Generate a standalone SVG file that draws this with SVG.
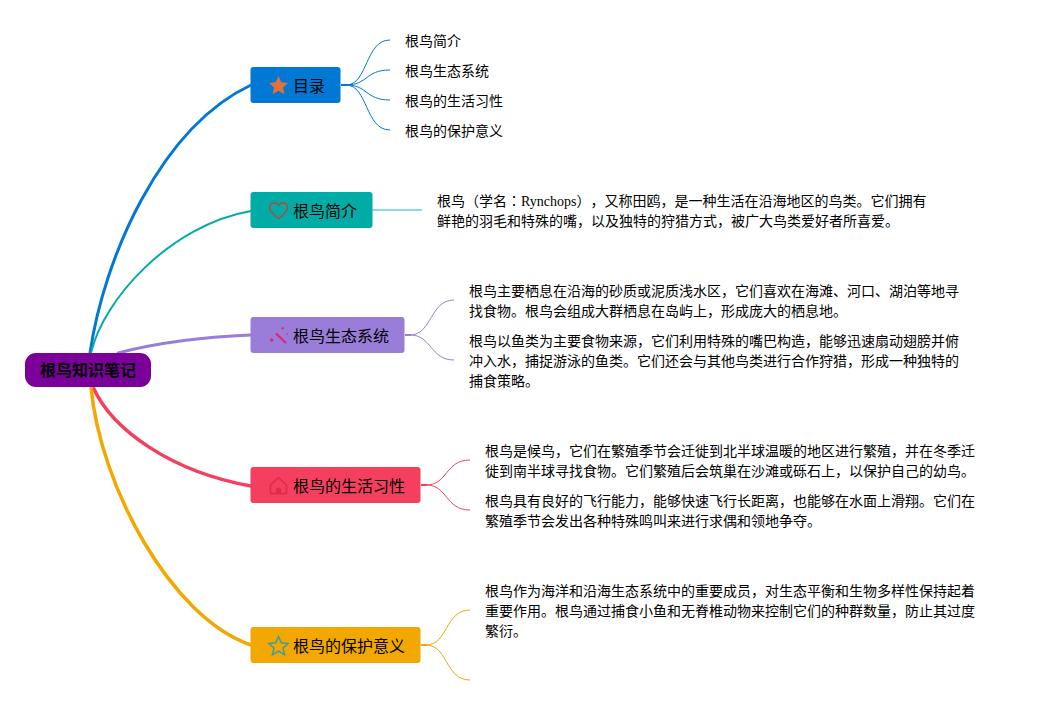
<svg xmlns="http://www.w3.org/2000/svg" width="1045" height="705" viewBox="0 0 1045 705">
<style>
text{font-family:"Liberation Serif","Noto Sans CJK SC",sans-serif;fill:#000;text-spacing-trim:space-all}
.t{font-size:16px}
.l{font-size:14px}
.m{fill:none;stroke-width:3;stroke-linecap:round}
.s{fill:none;stroke-width:1}
.b{fill:none;stroke-width:2}
</style>
<rect width="1045" height="705" fill="#fff"/>
<g id="connectors">
<path class="m" stroke="#0078d4" d="M90 353C104 258 160 128 251 85"/>
<path class="m" stroke="#00aca5" style="stroke-width:2" d="M91 353C103 300 170 225 251 211"/>
<path class="m" stroke="#9a7dd8" d="M118 353C160 342 200 337 251 335"/>
<path class="m" stroke="#f43f5e" style="stroke-width:3.500" d="M93 387C112 430 172 472 251 486"/>
<path class="m" stroke="#f2a800" style="stroke-width:3.500" d="M91 387C100 485 170 617 251 645"/>
<g stroke="#0078d4">
<path class="b" d="M341 85H347"/>
<path class="s" d="M346 85C368 85 365 40 390 40"/>
<path class="s" d="M346 85C368 85 365 70 390 70"/>
<path class="s" d="M346 85C368 85 365 100 390 100"/>
<path class="s" d="M346 85C368 85 365 130 390 130"/>
</g>
<path d="M372 210H422" fill="none" stroke="#00aca5" stroke-opacity=".6" stroke-width="1.500"/>
<g stroke="#9a7dd8">
<path class="b" d="M405 335H411"/>
<path class="s" d="M410 335C432 335 430 300 454 300"/>
<path class="s" d="M410 335C432 335 430 360 454 360"/>
</g>
<g stroke="#f43f5e">
<path class="b" d="M421 485H427"/>
<path class="s" d="M426 485C448 485 445 460 470 460"/>
<path class="s" d="M426 485C448 485 445 510 470 510"/>
</g>
<g stroke="#f2a800">
<path class="b" d="M421 645H427"/>
<path class="s" d="M426 645C448 645 445 610 470 610"/>
<path class="s" d="M426 645C448 645 445 680 470 680"/>
</g>
</g>
<g id="root">
<rect x="25" y="353" width="126" height="34" rx="11" fill="#7a0099"/>
<text x="88" y="376" text-anchor="middle" class="t" font-weight="bold">根鸟知识笔记</text>
</g>
<g id="node-mulu">
<rect x="250.500" y="67" width="90" height="36" rx="3" fill="#0078d4"/>
<path d="M278.500 76l2.800 6.300 6.800.7-5.100 4.500 1.500 6.700-6-3.500-6 3.500 1.500-6.700-5.100-4.500 6.800-.7z" fill="#e2703a"/>
<text x="293" y="91.500" class="t">目录</text>
</g>
<g id="node-intro">
<rect x="250.500" y="192" width="122" height="36" rx="3" fill="#00aca5"/>
<path d="M278.500 218.500c-4-3.500-9-6.500-9-11 0-5 6.500-6.500 9-2 2.500-4.500 9-3 9 2 0 4.500-5 7.500-9 11z" fill="none" stroke="#b04a4a" stroke-width="1.500"/>
<text x="293" y="216.500" class="t">根鸟简介</text>
</g>
<g id="node-eco">
<rect x="250.500" y="317" width="154" height="36" rx="3" fill="#9a7dd8"/>
<path d="M276 333.500L286 343" stroke="#e0246e" stroke-width="2" fill="none"/>
<path d="M282.700 326.800l1.500 1.500-1.500 1.500-1.500-1.500zM287 333l1 1-1 1-1-1zM271.700 338l2 2-2 2-2-2z" fill="#e0246e"/>
<text x="293" y="341.500" class="t">根鸟生态系统</text>
</g>
<g id="node-life">
<rect x="250.500" y="467" width="170" height="36" rx="3" fill="#f43f5e"/>
<path d="M270.500 485l8-7.500 8 7.500v8.500h-16z" fill="none" stroke="#e0294f" stroke-width="1.500" stroke-linejoin="round"/>
<path d="M276 493.500v-3.500a2.500 2.500 0 0 1 5 0v3.500z" fill="#e0294f"/>
<text x="293" y="491.500" class="t">根鸟的生活习性</text>
</g>
<g id="node-protect">
<rect x="250.500" y="627" width="170" height="36" rx="3" fill="#f2a800"/>
<path d="M278.500 636.500l2.800 6.300 6.800.7-5.100 4.500 1.500 6.700-6-3.500-6 3.500 1.500-6.700-5.100-4.500 6.800-.7z" fill="none" stroke="#3d9ca0" stroke-width="1.500"/>
<text x="293" y="651.500" class="t">根鸟的保护意义</text>
</g>
<g id="leaf-toc">
<text x="405" y="46" class="l">根鸟简介</text>
<text x="405" y="76" class="l">根鸟生态系统</text>
<text x="405" y="106" class="l">根鸟的生活习性</text>
<text x="405" y="136" class="l">根鸟的保护意义</text>
</g>
<g id="leaf-intro">
<text x="437" y="206" class="l">根鸟（学名<tspan style="font-family:'Noto Sans CJK TC',sans-serif">：</tspan>Rynchops），又称田鸥，是一种生活在沿海地区的鸟类。它们拥有</text>
<text x="437" y="226" class="l">鲜艳的羽毛和特殊的嘴，以及独特的狩猎方式，被广大鸟类爱好者所喜爱。</text>
</g>
<g id="leaf-eco">
<text x="469" y="296" class="l">根鸟主要栖息在沿海的砂质或泥质浅水区，它们喜欢在海滩、河口、湖泊等地寻</text>
<text x="469" y="316" class="l">找食物。根鸟会组成大群栖息在岛屿上，形成庞大的栖息地。</text>
<text x="469" y="346" class="l">根鸟以鱼类为主要食物来源，它们利用特殊的嘴巴构造，能够迅速扇动翅膀并俯</text>
<text x="469" y="366" class="l">冲入水，捕捉游泳的鱼类。它们还会与其他鸟类进行合作狩猎，形成一种独特的</text>
<text x="469" y="386" class="l">捕食策略。</text>
</g>
<g id="leaf-life">
<text x="485" y="456" class="l">根鸟是候鸟，它们在繁殖季节会迁徙到北半球温暖的地区进行繁殖，并在冬季迁</text>
<text x="485" y="476" class="l">徙到南半球寻找食物。它们繁殖后会筑巢在沙滩或砾石上，以保护自己的幼鸟。</text>
<text x="485" y="506" class="l">根鸟具有良好的飞行能力，能够快速飞行长距离，也能够在水面上滑翔。它们在</text>
<text x="485" y="526" class="l">繁殖季节会发出各种特殊鸣叫来进行求偶和领地争夺。</text>
</g>
<g id="leaf-protect">
<text x="485" y="596" class="l">根鸟作为海洋和沿海生态系统中的重要成员，对生态平衡和生物多样性保持起着</text>
<text x="485" y="616" class="l">重要作用。根鸟通过捕食小鱼和无脊椎动物来控制它们的种群数量，防止其过度</text>
<text x="485" y="636" class="l">繁衍。</text>
</g>
</svg>
